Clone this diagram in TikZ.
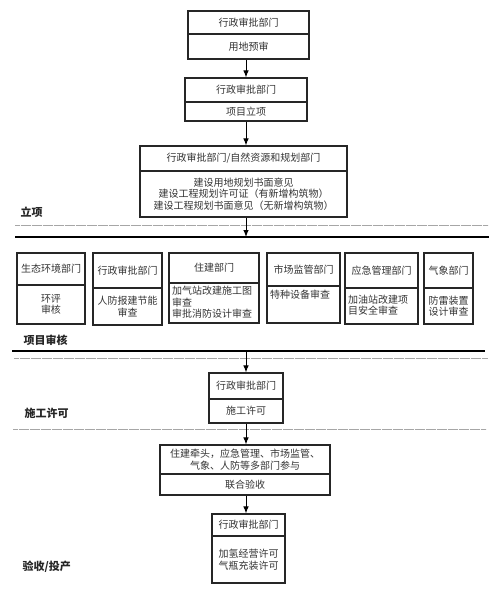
\documentclass[tikz,border=0pt]{standalone}
\usepackage{fontspec}
\setmainfont{Noto Sans CJK SC}
\usetikzlibrary{arrows.meta}
\begin{document}
\begin{tikzpicture}[x=1pt,y=-1pt,
  cell/.style={draw=black!85, line width=1.1pt, inner sep=0pt, align=center, font=\fontsize{10}{11.5}\selectfont, text=black!80},
  lcell/.style={cell, align=left},
  arr/.style={draw=black, line width=1pt, -{Latex[length=7pt,width=5.5pt]}},
  sect/.style={font=\fontsize{11}{12}\selectfont\bfseries, anchor=west, text=black!85},
  dots/.style={draw=black!35, line width=0.8pt, dash pattern=on 0.5pt off 0.6pt},
  thick line/.style={draw=black, line width=2.2pt}]
\useasboundingbox (0,0) rectangle (497,592);
% box 1
\node[cell, minimum width=121, minimum height=23] (b1h) at (248.5,22.5) {行政审批部门};
\node[cell, minimum width=121, minimum height=25] (b1l) at (248.5,46.5) {用地预审};
% box 2
\node[cell, minimum width=122, minimum height=24] (b2h) at (246,90) {行政审批部门};
\node[cell, minimum width=122, minimum height=19] (b2l) at (246,111.5) {项目立项};
% box 3
\node[cell, minimum width=207, minimum height=25] (b3h) at (243.5,158.5) {行政审批部门/自然资源和规划部门};
\node[cell, minimum width=207, minimum height=46] (b3l) at (243.5,194) {建设用地规划书面意见\\建设工程规划许可证（有新增构筑物）\\建设工程规划书面意见（无新增构筑物）};
% section 1
\node[sect] (s1) at (17,212) {立项};
\draw[dots] (15,225) coordinate (d1a) -- (488,225) coordinate (d1b);
\draw[thick line] (15,237) coordinate (t1a) -- (489,237) coordinate (t1b);
\coordinate (m1) at (246,237);
% row of boxes
\node[cell, minimum width=68, minimum height=32] (ah) at (51,269) {生态环境部门};
\node[cell, minimum width=68, minimum height=39] (al) at (51,304.5) {环评\\审核};
\node[cell, minimum width=69, minimum height=35] (bh) at (127.5,270.5) {行政审批部门};
\node[cell, minimum width=69, minimum height=37] (bl) at (127.5,306.5) {人防报建节能\\审查};
\node[cell, minimum width=90, minimum height=30] (ch) at (214,268) {住建部门};
\node[lcell, minimum width=90, minimum height=40] (cl) at (214,303) {};
\node[anchor=north west, align=left, inner sep=0pt, font=\fontsize{10}{11.5}\selectfont, text=black!80] (ct) at (172,286) {加气站改建施工图\\审查\\审批消防设计审查};
\node[cell, minimum width=73, minimum height=33] (dh) at (303.5,269.5) {市场监管部门};
\node[cell, minimum width=73, minimum height=37] (dl) at (303.5,304.5) {};
\node[anchor=north west, inner sep=0pt, font=\fontsize{10}{11.5}\selectfont, text=black!80] (dt) at (270,290) {特种设备审查};
\node[cell, minimum width=73, minimum height=35] (eh) at (381.5,270.5) {应急管理部门};
\node[cell, minimum width=73, minimum height=36] (el) at (381.5,306) {};
\node[anchor=west, align=left, inner sep=0pt, font=\fontsize{10}{11.5}\selectfont, text=black!80] (et) at (348,305) {加油站改建项\\目安全审查};
\node[cell, minimum width=49, minimum height=35] (fh) at (448.5,270.5) {气象部门};
\node[cell, minimum width=49, minimum height=36] (fl) at (448.5,306) {防雷装置\\设计审查};
% section 2
\node[sect] (s2) at (20,340) {项目审核};
\draw[thick line] (12,351) coordinate (t2a) -- (485,351) coordinate (t2b);
\draw[dots] (14,358) coordinate (d2a) -- (488,358) coordinate (d2b);
\coordinate (m2) at (246,351);
% box 4
\node[cell, minimum width=74, minimum height=26] (b4h) at (246,386) {行政审批部门};
\node[cell, minimum width=74, minimum height=24] (b4l) at (246,411) {施工许可};
\node[sect] (s3) at (21,413) {施工许可};
\draw[dots] (13,429) coordinate (d3a) -- (486,429) coordinate (d3b);
% box 5
\node[cell, minimum width=170, minimum height=29] (b5h) at (245,459.5) {住建牵头，应急管理、市场监管、\\气象、人防等多部门参与};
\node[cell, minimum width=170, minimum height=21] (b5l) at (245,484.5) {联合验收};
% box 6
\node[cell, minimum width=73, minimum height=22] (b6h) at (248.5,525) {行政审批部门};
\node[cell, minimum width=73, minimum height=47] (b6l) at (248.5,559.5) {加氢经营许可\\气瓶充装许可};
\node[sect] (s4) at (19,567) {验收/投产};
% arrows
\draw[arr] (b1l.south -| b2h.north) -- (b2h.north);
\draw[arr] (b2l.south) -- (b2l.south |- b3h.north);
\draw[arr] (m1 |- b3l.south) -- (m1);
\draw[arr] (m2) -- (b4h.north);
\draw[arr] (b4l.south) -- (b4l.south |- b5h.north);
\draw[arr] (m2 |- b5l.south) -- (m2 |- b6h.north);
\end{tikzpicture}
\end{document}
